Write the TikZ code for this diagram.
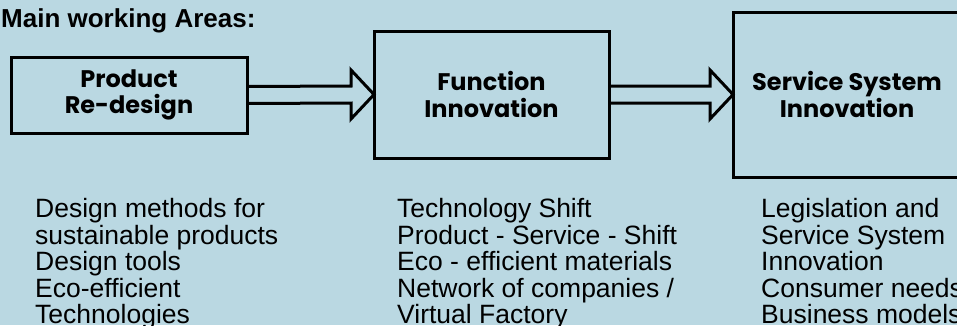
\documentclass[tikz,border=0pt]{standalone}
\usepackage{fontspec}
\setmainfont{Liberation Sans}
\newfontfamily\gothic{Poppins}
\definecolor{paleblue}{RGB}{186,216,226}

\begin{document}
\begin{tikzpicture}[x=1pt,y=-1pt,
    areabox/.style={draw=black,line width=3pt,outer sep=0pt,inner sep=0pt,
        align=center,font=\gothic\bfseries\fontsize{24}{26.5}\selectfont},
    shaft/.style={draw=black,line width=3pt,line join=miter},
    topics/.style={anchor=north west,inner sep=0pt,align=left,
        font=\fontsize{26.5}{26.6}\selectfont}]

% Background and page size
\useasboundingbox (0,0) rectangle (957,325);
\fill[paleblue] (0,0) rectangle (957,325);

% Heading
\node[anchor=base west,inner sep=0pt,font=\bfseries\fontsize{26}{30}\selectfont]
    (title) at (1,27) {Main working Areas:};

% The three working areas
\node[areabox,minimum width=236,minimum height=76] (prod) at (129,95)
    {Product\\Re-design};
\node[areabox,minimum width=235,minimum height=127] (func) at (491.5,94.5)
    {Function\\Innovation};
\node[areabox,minimum width=228,minimum height=165] (serv) at (847,94.5)
    {Service System\\Innovation};

% Block arrows between the areas
\foreach \a/\b in {prod/func,func/serv} {
    \draw[shaft] ([shift={(0,-8.5)}]\a.east) -- ([shift={(-23,-8.5)}]\b.west)
        -- ([shift={(-23,-24.5)}]\b.west) -- (\b.west)
        -- ([shift={(-23,24.5)}]\b.west) -- ([shift={(-23,8.5)}]\b.west)
        -- ([shift={(0,8.5)}]\a.east);
}

% Topics below each area
\node[topics] (prodlist) at (35,198) {Design methods for\\sustainable products\\Design tools\\Eco-efficient\\Technologies};
\node[topics] (funclist) at (397,198) {Technology Shift\\Product - Service - Shift\\Eco - efficient materials\\Network of companies /\\Virtual Factory};
\node[topics] (servlist) at (761,198) {Legislation and\\Service System\\Innovation\\Consumer needs\\Business models};

\end{tikzpicture}
\end{document}
